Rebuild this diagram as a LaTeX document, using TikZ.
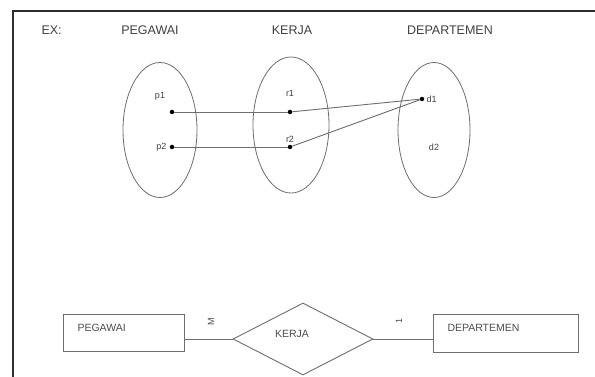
\documentclass[tikz,border=0pt]{standalone}
\usepackage{fontspec}
\setmainfont{Liberation Sans}
\usetikzlibrary{shapes.geometric}
\definecolor{lgray}{HTML}{6E6E6E}
\definecolor{frm}{HTML}{2E2E2E}
\begin{document}
\begin{tikzpicture}[x=1pt,y=-1pt,
  settxt/.style={font=\fontsize{12.5}{14}\selectfont, text=black!75},
  smalltxt/.style={font=\fontsize{9}{10}\selectfont, text=black!75},
  settype/.style={draw=lgray, line width=0.8pt, ellipse, inner sep=0pt},
  elem/.style={circle, fill=black, inner sep=0pt, minimum size=4.5pt},
  link/.style={draw=lgray, line width=0.9pt},
  entity/.style={draw=lgray, line width=0.9pt, rectangle, inner sep=0pt},
  relation/.style={draw=lgray, line width=0.9pt, diamond, inner sep=0pt},
  boxtxt/.style={font=\fontsize{10.5}{12}\selectfont, text=black!70, anchor=west},
  card/.style={font=\fontsize{9}{10}\selectfont, text=black!70, rotate=90}]
\useasboundingbox (0,0) rectangle (595,377);
\fill[white] (0,0) rectangle (595,377);
% frame (top and left edges visible)
\coordinate (ftr) at (595,11);
\coordinate (ftl) at (13,11);
\coordinate (fbl) at (13,377);
\draw[frm, line width=2pt] (ftr) -- (ftl) -- (fbl);
% headers
\node[settxt, anchor=west] (ex) at (38,30) {EX:};
\node[settxt] (hpeg) at (150,30) {PEGAWAI};
\node[settxt] (hker) at (292,30) {KERJA};
\node[settxt] (hdep) at (450,30) {DEPARTEMEN};
% sets
\node[settype, minimum width=74pt, minimum height=135pt] (setp) at (160,130) {};
\node[settype, minimum width=76pt, minimum height=136pt] (setr) at (291,125) {};
\node[settype, minimum width=72pt, minimum height=135pt] (setd) at (434,130) {};
% elements
\node[elem] (p1) at (172,112) {};
\node[elem] (p2) at (172,147) {};
\node[elem] (r1) at (290,112) {};
\node[elem] (r2) at (290,147) {};
\node[elem] (d1) at (422,99) {};
\node[smalltxt] (lp1) at (160,96) {p1};
\node[smalltxt, anchor=east] (lp2) at (170,147) {p2};
\node[smalltxt] (lr1) at (290,93) {r1};
\node[smalltxt] (lr2) at (290,139) {r2};
\node[smalltxt, anchor=west] (ld1) at (423,99) {d1};
\node[smalltxt] (ld2) at (434,147) {d2};
% mappings
\draw[link] (p1) -- (r1);
\draw[link] (p2) -- (r2);
\draw[link] (r1) -- (d1);
\draw[link] (r2) -- (d1);
% ER diagram
\node[entity, minimum width=121pt, minimum height=37pt] (epeg) at (123.5,332.5) {};
\node[boxtxt] (tpeg) at (74,328) {PEGAWAI};
\node[relation, minimum width=140pt, minimum height=72pt] (rker) at (303,339) {};
\node[font=\fontsize{10.5}{12}\selectfont, text=black!70] (tker) at (292,334) {KERJA};
\node[entity, minimum width=145pt, minimum height=38pt] (edep) at (505.5,333) {};
\node[boxtxt] (tdep) at (444,328) {DEPARTEMEN};
\draw[link] (epeg.east |- rker.west) -- (rker.west);
\draw[link] (rker.east) -- (edep.west |- rker.east);
\node[card] (cm) at (211,322) {M};
\node[card] (c1) at (399,321) {1};
\end{tikzpicture}
\end{document}
